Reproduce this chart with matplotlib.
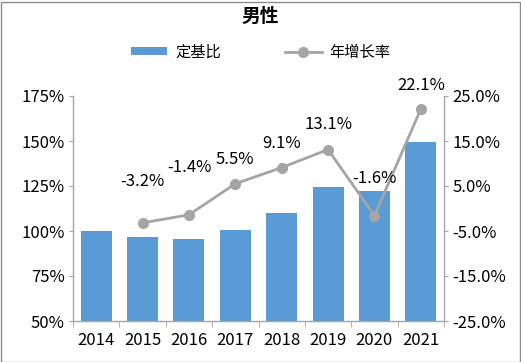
import matplotlib
matplotlib.use("Agg")
import matplotlib.pyplot as plt
from matplotlib.patches import Rectangle
from matplotlib.ticker import FuncFormatter, FixedLocator

plt.rcParams['font.family'] = ['Noto Sans CJK SC', 'DejaVu Sans']

years = ['2014', '2015', '2016', '2017', '2018', '2019', '2020', '2021']
base_ratio = [100.0, 96.8, 95.4, 100.7, 109.9, 124.3, 122.3, 149.3]
growth_years = ['2015', '2016', '2017', '2018', '2019', '2020', '2021']
growth = [-3.2, -1.4, 5.5, 9.1, 13.1, -1.6, 22.1]
label_offsets_px = [41, 47, 24, 24, 25, 37, 24]

bar_color = '#5B9BD5'
line_color = '#A5A5A5'
axis_color = '#A6A6A6'

fig = plt.figure(figsize=(5.21, 3.62), dpi=100)
ax = fig.add_axes([73/521, 41/362, 371/521, 225/362])
ax2 = ax.twinx()

x = list(range(len(years)))
ax.bar(x, base_ratio, width=0.67, color=bar_color, label='定基比', zorder=2)
ax.set_ylim(50, 175)
ax.set_yticks([50, 75, 100, 125, 150, 175])
ax.yaxis.set_major_formatter(FuncFormatter(lambda v, p: f'{v:.0f}%'))
ax.set_xlim(-0.5, len(years) - 0.5)
ax.set_xticks(x)
ax.set_xticklabels(years)
ax.xaxis.set_minor_locator(FixedLocator([i - 0.5 for i in range(len(years) + 1)]))
ax.tick_params(axis='x', which='major', length=0, labelsize=12, pad=8)
ax.tick_params(axis='x', which='minor', length=4, color=axis_color, direction='out')
ax.tick_params(axis='y', length=3, color=axis_color, labelsize=12, pad=3)

gx = [years.index(y) for y in growth_years]
ax2.plot(gx, growth, color=line_color, lw=2, marker='o', ms=7, label='年增长率', zorder=3)
ax2.set_ylim(-25, 25)
ax2.set_yticks([-25, -15, -5, 5, 15, 25])
ax2.yaxis.set_major_formatter(FuncFormatter(lambda v, p: f'{v:.1f}%'))
ax2.tick_params(axis='y', length=3, color=axis_color, labelsize=12, pad=3)

for xi, g, off in zip(gx, growth, label_offsets_px):
    ax2.annotate(f'{g:.1f}%', (xi, g), xytext=(0, off * 72 / 100), textcoords='offset points',
                 ha='center', va='center', fontsize=12, color='black')

for a in (ax, ax2):
    a.spines['top'].set_visible(False)
    for s in ('left', 'right', 'bottom'):
        a.spines[s].set_color(axis_color)
        a.spines[s].set_linewidth(1)
ax.spines['right'].set_visible(False)
ax2.spines['left'].set_visible(False)
ax2.spines['bottom'].set_visible(False)

fig.text(0.5, 1 - 16/362, '男性', ha='center', va='center', fontsize=13.5, fontweight='bold')

h1, l1 = ax.get_legend_handles_labels()
h2, l2 = ax2.get_legend_handles_labels()
fig.legend(h1 + h2, l1 + l2, loc='center', bbox_to_anchor=(0.5, 1 - 52/362), ncol=2,
           frameon=False, fontsize=11, handlelength=2.4, handleheight=0.5, columnspacing=4.2,
           handletextpad=0.5)

fig.add_artist(Rectangle((0.5/521, 0.5/362), 519/521, 360/362, transform=fig.transFigure,
                         fill=False, edgecolor='#8C8C8C', lw=1))

fig.savefig('out.png', dpi=100)
